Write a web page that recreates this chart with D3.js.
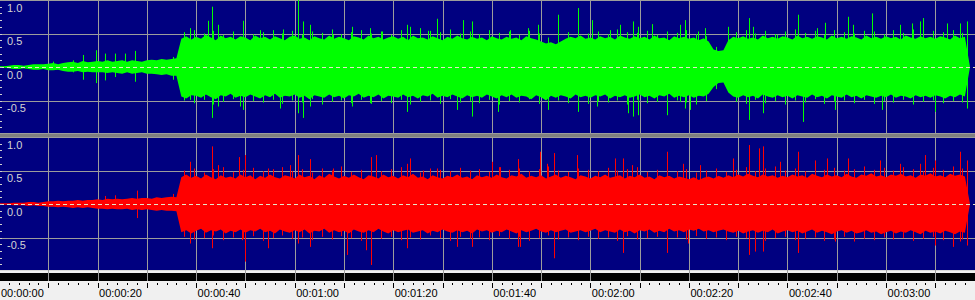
<!DOCTYPE html>
<html>
<head>
<meta charset="utf-8">
<script src="https://cdn.jsdelivr.net/npm/d3@7/dist/d3.min.js"></script>
<style>
  body { margin: 0; background: #f0f0f0; }
  svg { display: block; }
</style>
</head>
<body>
<svg id="chart" width="975" height="300"></svg>
<script>
// peak envelope per second (index = seconds)
var greenHi = [
  0.01,0.01,0.02,0.03,0.03,0.02,0.03,0.04,0.04,0.04,
  0.05,0.06,0.04,0.06,0.07,0.08,0.06,0.09,0.07,0.08,
  0.09,0.08,0.10,0.08,0.09,0.10,0.08,0.10,0.09,0.08,
  0.10,0.11,0.10,0.12,0.11,0.12,0.13,0.42,0.46,0.41,
  0.45,0.42,0.48,0.44,0.40,0.47,0.43,0.45,0.41,0.46,
  0.44,0.40,0.47,0.43,0.45,0.41,0.46,0.43,0.40,0.45,
  0.47,0.42,0.44,0.40,0.46,0.43,0.41,0.47,0.42,0.45,
  0.43,0.40,0.46,0.44,0.41,0.47,0.43,0.45,0.41,0.44,
  0.46,0.42,0.45,0.40,0.47,0.43,0.44,0.41,0.46,0.43,
  0.40,0.45,0.42,0.47,0.43,0.41,0.45,0.42,0.44,0.40,
  0.46,0.43,0.41,0.45,0.42,0.44,0.40,0.46,0.43,0.41,
  0.38,0.35,0.37,0.34,0.38,0.42,0.45,0.43,0.47,0.42,
  0.44,0.41,0.46,0.43,0.45,0.41,0.47,0.44,0.42,0.46,
  0.43,0.45,0.41,0.47,0.43,0.44,0.40,0.46,0.43,0.45,
  0.42,0.44,0.40,0.43,0.38,0.26,0.24,0.25,0.40,0.45,
  0.43,0.46,0.42,0.44,0.41,0.47,0.43,0.45,0.42,0.46,
  0.44,0.41,0.47,0.43,0.45,0.42,0.46,0.44,0.41,0.47,
  0.43,0.45,0.42,0.46,0.44,0.41,0.47,0.43,0.45,0.42,
  0.46,0.43,0.45,0.41,0.47,0.44,0.42,0.46,0.43,0.45,
  0.42,0.46,0.44,0.41,0.47,0.43,0.45,0.02
];
var greenLo = [
  -0.01,-0.01,-0.02,-0.03,-0.03,-0.02,-0.03,-0.04,-0.04,-0.03,
  -0.05,-0.05,-0.04,-0.06,-0.07,-0.07,-0.06,-0.08,-0.07,-0.08,
  -0.08,-0.08,-0.09,-0.08,-0.09,-0.10,-0.08,-0.10,-0.09,-0.08,
  -0.10,-0.10,-0.11,-0.12,-0.11,-0.13,-0.13,-0.44,-0.47,-0.42,
  -0.43,-0.46,-0.41,-0.45,-0.48,-0.42,-0.44,-0.40,-0.46,-0.43,
  -0.45,-0.41,-0.44,-0.47,-0.42,-0.45,-0.40,-0.46,-0.43,-0.44,
  -0.41,-0.46,-0.43,-0.48,-0.42,-0.44,-0.46,-0.41,-0.45,-0.43,
  -0.47,-0.42,-0.44,-0.40,-0.46,-0.43,-0.45,-0.41,-0.47,-0.43,
  -0.44,-0.46,-0.41,-0.45,-0.43,-0.47,-0.42,-0.44,-0.40,-0.46,
  -0.43,-0.45,-0.41,-0.44,-0.47,-0.42,-0.45,-0.43,-0.46,-0.41,
  -0.44,-0.47,-0.42,-0.45,-0.41,-0.46,-0.43,-0.44,-0.48,-0.42,
  -0.45,-0.50,-0.43,-0.46,-0.42,-0.44,-0.47,-0.41,-0.45,-0.43,
  -0.46,-0.42,-0.44,-0.41,-0.47,-0.43,-0.45,-0.42,-0.46,-0.44,
  -0.41,-0.45,-0.43,-0.47,-0.42,-0.44,-0.40,-0.46,-0.43,-0.45,
  -0.42,-0.46,-0.43,-0.44,-0.40,-0.30,-0.24,-0.23,-0.38,-0.44,
  -0.46,-0.42,-0.45,-0.43,-0.47,-0.41,-0.44,-0.46,-0.42,-0.45,
  -0.43,-0.47,-0.42,-0.44,-0.46,-0.41,-0.45,-0.43,-0.47,-0.42,
  -0.44,-0.46,-0.41,-0.45,-0.43,-0.47,-0.42,-0.44,-0.46,-0.43,
  -0.45,-0.41,-0.46,-0.43,-0.44,-0.47,-0.42,-0.45,-0.43,-0.46,
  -0.42,-0.44,-0.47,-0.43,-0.45,-0.41,-0.44,-0.02
];
var redHi = [
  0.01,0.01,0.01,0.02,0.02,0.02,0.03,0.03,0.02,0.03,
  0.04,0.04,0.05,0.04,0.05,0.05,0.06,0.05,0.06,0.06,
  0.07,0.06,0.08,0.07,0.08,0.07,0.08,0.09,0.08,0.09,
  0.09,0.08,0.10,0.09,0.10,0.11,0.10,0.40,0.44,0.39,
  0.42,0.38,0.44,0.40,0.37,0.43,0.39,0.41,0.38,0.44,
  0.40,0.43,0.37,0.42,0.39,0.44,0.40,0.38,0.43,0.41,
  0.38,0.44,0.40,0.42,0.37,0.43,0.39,0.45,0.41,0.38,
  0.42,0.39,0.44,0.40,0.37,0.43,0.41,0.38,0.44,0.40,
  0.42,0.38,0.43,0.40,0.45,0.39,0.41,0.37,0.43,0.40,
  0.38,0.42,0.40,0.44,0.39,0.41,0.37,0.43,0.40,0.42,
  0.39,0.44,0.40,0.38,0.43,0.41,0.45,0.39,0.42,0.40,
  0.43,0.38,0.41,0.44,0.39,0.42,0.40,0.37,0.43,0.41,
  0.38,0.42,0.40,0.44,0.39,0.41,0.43,0.38,0.42,0.40,
  0.44,0.39,0.41,0.37,0.43,0.40,0.42,0.38,0.41,0.39,
  0.37,0.40,0.36,0.39,0.41,0.38,0.42,0.39,0.43,0.40,
  0.44,0.41,0.45,0.42,0.40,0.44,0.41,0.43,0.39,0.42,
  0.40,0.44,0.41,0.43,0.39,0.45,0.42,0.40,0.44,0.41,
  0.43,0.40,0.45,0.41,0.39,0.44,0.42,0.46,0.41,0.43,
  0.40,0.44,0.42,0.45,0.41,0.43,0.39,0.44,0.42,0.46,
  0.41,0.43,0.40,0.45,0.42,0.44,0.41,0.02
];
var redLo = [
  -0.01,-0.01,-0.01,-0.02,-0.02,-0.02,-0.03,-0.02,-0.03,-0.03,
  -0.04,-0.04,-0.05,-0.04,-0.05,-0.06,-0.05,-0.06,-0.05,-0.06,
  -0.07,-0.07,-0.08,-0.07,-0.08,-0.08,-0.07,-0.09,-0.08,-0.09,
  -0.08,-0.09,-0.10,-0.09,-0.10,-0.10,-0.11,-0.42,-0.39,-0.44,
  -0.40,-0.37,-0.43,-0.39,-0.41,-0.38,-0.44,-0.40,-0.42,-0.38,
  -0.43,-0.39,-0.41,-0.37,-0.42,-0.40,-0.44,-0.38,-0.41,-0.43,
  -0.39,-0.42,-0.38,-0.44,-0.40,-0.41,-0.37,-0.43,-0.39,-0.42,
  -0.40,-0.44,-0.38,-0.41,-0.43,-0.39,-0.42,-0.37,-0.41,-0.44,
  -0.39,-0.42,-0.40,-0.38,-0.43,-0.41,-0.39,-0.44,-0.40,-0.42,
  -0.38,-0.41,-0.43,-0.39,-0.42,-0.40,-0.44,-0.38,-0.41,-0.39,
  -0.43,-0.40,-0.42,-0.38,-0.41,-0.44,-0.39,-0.42,-0.40,-0.37,
  -0.41,-0.43,-0.39,-0.42,-0.40,-0.38,-0.43,-0.41,-0.39,-0.42,
  -0.40,-0.37,-0.42,-0.39,-0.41,-0.43,-0.38,-0.42,-0.40,-0.44,
  -0.39,-0.41,-0.38,-0.43,-0.40,-0.42,-0.37,-0.41,-0.39,-0.42,
  -0.38,-0.40,-0.37,-0.41,-0.39,-0.42,-0.40,-0.38,-0.41,-0.43,
  -0.40,-0.44,-0.41,-0.39,-0.43,-0.40,-0.42,-0.38,-0.44,-0.41,
  -0.39,-0.42,-0.40,-0.44,-0.41,-0.38,-0.43,-0.40,-0.42,-0.45,
  -0.41,-0.39,-0.43,-0.40,-0.44,-0.42,-0.39,-0.43,-0.41,-0.45,
  -0.42,-0.40,-0.44,-0.41,-0.43,-0.39,-0.42,-0.45,-0.40,-0.43,
  -0.41,-0.44,-0.40,-0.42,-0.45,-0.41,-0.43,-0.02
];

// thin teeth on the edge of the loud part, one per 2 s starting at 37.5 s
var fringeStart = 37.5;
var greenFringeTop = [
  0.52,0.55,0.50,0.54,0.48,0.53,0.56,0.49,0.52,0.55,
  0.50,0.54,0.48,0.53,0.51,0.56,0.49,0.52,0.55,0.50,
  0.53,0.48,0.55,0.51,0.49,0.54,0.52,0.56,0.50,0.53,
  0.49,0.55,0.51,0.53,0.48,0.54,0.50,0.44,0.42,0.52,
  0.55,0.50,0.53,0.49,0.56,0.52,0.51,0.54,0.48,0.53,
  0.51,0.55,0.49,0.46,0.30,0.29,0.52,0.55,0.50,0.54,
  0.49,0.53,0.56,0.51,0.54,0.48,0.55,0.52,0.50,0.54,
  0.53,0.49,0.55,0.51,0.56,0.50,0.54,0.52,0.55,0.51
];
var greenFringeBottom = [
  -0.50,-0.54,-0.49,-0.56,-0.52,-0.48,-0.55,-0.51,-0.53,-0.49,
  -0.55,-0.50,-0.53,-0.48,-0.56,-0.52,-0.50,-0.54,-0.49,-0.55,
  -0.51,-0.54,-0.49,-0.56,-0.52,-0.50,-0.55,-0.48,-0.53,-0.51,
  -0.54,-0.49,-0.56,-0.51,-0.53,-0.48,-0.55,-0.52,-0.50,-0.54,
  -0.49,-0.55,-0.51,-0.53,-0.50,-0.56,-0.49,-0.54,-0.52,-0.55,
  -0.50,-0.53,-0.56,-0.51,-0.33,-0.28,-0.52,-0.55,-0.49,-0.54,
  -0.51,-0.56,-0.50,-0.53,-0.48,-0.55,-0.52,-0.50,-0.54,-0.49,
  -0.55,-0.51,-0.53,-0.49,-0.56,-0.52,-0.50,-0.54,-0.51,-0.53
];
var redFringeTop = [
  0.50,0.53,0.47,0.52,0.55,0.48,0.51,0.54,0.49,0.52,
  0.55,0.49,0.52,0.47,0.53,0.50,0.56,0.48,0.51,0.54,
  0.49,0.52,0.55,0.50,0.47,0.53,0.51,0.49,0.54,0.50,
  0.52,0.48,0.55,0.51,0.53,0.49,0.52,0.56,0.50,0.48,
  0.53,0.51,0.49,0.54,0.50,0.52,0.55,0.48,0.51,0.53,
  0.49,0.52,0.47,0.50,0.53,0.48,0.51,0.55,0.49,0.53,
  0.56,0.50,0.53,0.49,0.55,0.51,0.54,0.50,0.52,0.56,
  0.51,0.54,0.50,0.55,0.52,0.49,0.54,0.51,0.56,0.53
];
var redFringeBottom = [
  -0.49,-0.53,-0.51,-0.47,-0.54,-0.50,-0.52,-0.48,-0.55,-0.51,
  -0.47,-0.52,-0.50,-0.54,-0.49,-0.53,-0.48,-0.51,-0.55,-0.50,
  -0.52,-0.49,-0.54,-0.50,-0.53,-0.47,-0.51,-0.55,-0.49,-0.52,
  -0.50,-0.54,-0.48,-0.52,-0.49,-0.55,-0.51,-0.47,-0.53,-0.50,
  -0.54,-0.49,-0.52,-0.50,-0.55,-0.48,-0.53,-0.51,-0.49,-0.54,
  -0.50,-0.53,-0.48,-0.52,-0.50,-0.54,-0.49,-0.51,-0.53,-0.55,
  -0.51,-0.49,-0.54,-0.52,-0.50,-0.55,-0.53,-0.49,-0.56,-0.52,
  -0.54,-0.50,-0.53,-0.51,-0.55,-0.52,-0.49,-0.54,-0.51,-0.53
];

// single tall transients [seconds, amplitude]
var greenPeaks = [
  [11.0,0.08],[15.0,0.10],[15.0,-0.08],[17.0,0.18],[17.0,-0.19],[19.7,0.25],[19.7,-0.24],
  [21.5,0.20],[21.5,-0.20],[23.5,0.20],[23.5,-0.15],[25.6,0.20],[27.6,0.24],[27.6,-0.22],
  [35.3,0.15],[35.3,-0.19],
  [38.8,0.58],[38.8,-0.49],[42.4,0.69],[43.2,0.90],[43.2,-0.76],[44.4,0.63],[44.4,-0.59],
  [48.9,-0.59],[49.5,0.69],[49.5,-0.64],[53.0,0.55],[57.0,-0.62],[57.6,0.56],
  [60.7,1.00],[60.7,-0.69],[61.7,0.68],[61.7,-0.76],[63.1,0.63],[63.1,-0.59],[67.8,0.48],
  [71.6,0.60],[71.6,-0.59],[75.3,0.58],[75.3,-0.54],[77.7,0.53],[82.8,0.63],[82.8,-0.67],
  [83.4,0.60],[85.4,0.58],[85.4,-0.52],[87.1,0.54],[88.9,0.72],[92.9,-0.64],[94.2,0.70],
  [96.0,0.68],[96.0,-0.74],[101.3,-0.67],[103.7,0.55],[107.3,0.58],[109.4,0.63],
  [111.4,-0.64],[113.4,0.78],[117.5,0.88],[117.5,-0.67],[120.3,0.70],[121.3,-0.59],
  [124.0,0.55],[126.0,0.63],[127.6,-0.69],[128.7,0.68],[128.7,-0.74],[129.7,0.60],
  [129.7,-0.72],[132.5,0.64],[135.6,-0.72],[138.2,0.63],[138.2,-0.52],[139.2,0.70],
  [139.2,-0.62],[140.2,-0.64],[141.8,0.53],[143.3,0.58],[147.9,0.60],[152.2,0.73],
  [152.2,-0.79],[153.0,0.60],[155.0,-0.69],[157.9,0.48],[162.1,0.78],[163.1,-0.82],
  [166.0,0.58],[167.6,0.66],[169.6,-0.64],[172.3,0.75],[173.3,0.63],[177.2,0.80],
  [179.2,-0.64],[182.8,0.63],[185.3,0.65],[186.9,0.68],[187.5,0.73],[190.0,-0.67],
  [192.4,0.65],[195.0,0.65],[196.4,0.68],[196.4,-0.62]
];
var redPeaks = [
  [21.5,0.12],[23.5,0.13],[28.0,0.20],[28.0,-0.21],[35.3,0.15],
  [38.8,0.63],[38.8,-0.59],[43.2,0.86],[43.2,-0.66],[44.4,0.58],[48.7,0.70],[49.3,-0.54],
  [49.9,0.73],[49.9,-0.86],[54.6,0.53],[54.6,-0.66],[59.0,0.58],[60.7,0.73],[60.7,-0.59],
  [63.1,0.67],[63.1,-0.64],[67.8,0.53],[70.6,-0.76],[74.5,-0.69],[75.5,0.70],[75.5,-0.91],
  [76.5,0.73],[82.8,0.60],[82.8,-0.66],[83.4,0.68],[86.0,0.50],[88.9,0.53],[92.9,-0.64],
  [96.0,-0.64],[100.0,0.63],[101.7,0.55],[105.3,0.67],[105.3,-0.64],[105.7,-0.64],
  [109.8,0.78],[111.2,0.60],[112.6,0.76],[112.6,-0.81],[117.3,0.73],[125.0,0.68],
  [126.6,0.68],[126.6,-0.73],[128.4,0.58],[135.6,0.78],[135.6,-0.73],[138.8,0.60],
  [139.8,-0.59],[142.2,0.58],[148.9,0.68],[152.2,0.88],[152.2,-0.76],[153.4,-0.71],
  [154.2,0.83],[155.0,0.86],[155.0,-0.71],[158.5,0.63],[162.1,0.78],[162.1,-0.73],
  [165.6,0.65],[168.0,0.68],[169.6,-0.56],[172.3,0.68],[178.8,0.65],[182.8,0.60],
  [186.9,0.60],[187.9,0.73],[190.0,0.65],[190.0,-0.62],[193.6,-0.64],[195.0,0.78],
  [195.0,-0.56],[196.4,0.65],[196.4,-0.62]
];

var yTicks = [1.0, 0.5, 0.0, -0.5];
var timeLabels = ["00:00:00", "00:00:20", "00:00:40", "00:01:00", "00:01:20", "00:01:40",
                  "00:02:00", "00:02:20", "00:02:40", "00:03:00"];

var W = 975, panelH = 134, gap = 3;
var navy = "#000080", grid = "#9c9c9c";

var svg = d3.select("#chart");
var x = d3.scaleLinear().domain([0, 198]).range([-1, -1 + 198 * 4.928]);
var px = function (t) { return Math.round(x(t)) + 0.5; };

svg.append("rect").attr("width", W).attr("height", 300).attr("fill", "#f0f0f0");

function fringeToPeaks(top, bottom) {
    var out = [];
    top.forEach(function (v, i) { out.push([fringeStart + 2 * i, v]); });
    bottom.forEach(function (v, i) { out.push([fringeStart + 2 * i, v]); });
    return out;
}

function drawPanel(top, hi, lo, peaks, color, id) {
    var y = d3.scaleLinear().domain([-1, 1]).range([top + panelH, top]);
    var g = svg.append("g");

    g.append("rect").attr("x", 0).attr("y", top).attr("width", W).attr("height", panelH)
        .attr("fill", navy);

    svg.append("clipPath").attr("id", id)
        .append("rect").attr("x", 0).attr("y", top).attr("width", W).attr("height", panelH);

    // gridlines
    g.selectAll(".hgrid").data([1, 0.5, -0.5, -1]).enter().append("line")
        .attr("x1", 0).attr("x2", W)
        .attr("y1", function (d) { return Math.min(Math.round(y(d)), top + panelH - 1) + 0.5; })
        .attr("y2", function (d) { return Math.min(Math.round(y(d)), top + panelH - 1) + 0.5; })
        .attr("stroke", function (d) { return d === -1 && top > 0 ? "#d8d8d8" : grid; });
    g.selectAll(".vgrid").data(d3.range(10, 200, 10)).enter().append("line")
        .attr("x1", px).attr("x2", px)
        .attr("y1", top).attr("y2", top + panelH)
        .attr("stroke", grid);

    // waveform body
    var samples = hi.map(function (v, i) { return { t: i, hi: v, lo: lo[i] }; });
    var area = d3.area()
        .x(function (d) { return x(d.t); })
        .y0(function (d) { return y(d.lo); })
        .y1(function (d) { return y(d.hi); });
    var wave = g.append("g").attr("clip-path", "url(#" + id + ")");
    wave.append("path").datum(samples).attr("d", area).attr("fill", color);
    wave.selectAll(".peak").data(peaks).enter().append("line")
        .attr("x1", function (d) { return px(d[0]); })
        .attr("x2", function (d) { return px(d[0]); })
        .attr("y1", y(0))
        .attr("y2", function (d) { return y(d[1]); })
        .attr("stroke", color).attr("stroke-width", 1);

    // zero line
    g.append("line").attr("x1", 0).attr("x2", W)
        .attr("y1", Math.round(y(0)) + 0.5).attr("y2", Math.round(y(0)) + 0.5)
        .attr("stroke", "#e6e6c8").attr("stroke-dasharray", "4,3");

    // left ticks and labels
    g.selectAll(".ytick").data(d3.range(-9, 10)).enter().append("line")
        .attr("x1", 0).attr("x2", 2)
        .attr("y1", function (d) { return Math.round(y(d / 10)) + 0.5; })
        .attr("y2", function (d) { return Math.round(y(d / 10)) + 0.5; })
        .attr("stroke", "#d0d0d0");
    g.selectAll(".ylab").data(yTicks).enter().append("text")
        .attr("x", 7)
        .attr("y", function (d) { return y(d) + 11.5; })
        .attr("fill", "#d4d4d4")
        .style("font", "11px 'Liberation Sans', Arial, sans-serif")
        .text(function (d) { return d.toFixed(1); });
}

drawPanel(0, greenHi, greenLo,
    greenPeaks.concat(fringeToPeaks(greenFringeTop, greenFringeBottom)), "#00ff00", "clipTop");
svg.append("rect").attr("x", 0).attr("y", panelH).attr("width", W).attr("height", gap)
    .attr("fill", "#808080");
drawPanel(panelH + gap, redHi, redLo,
    redPeaks.concat(fringeToPeaks(redFringeTop, redFringeBottom)), "#ff0000", "clipBottom");

// black strip under the panels
var stripTop = 2 * panelH + gap + 2;
svg.append("rect").attr("x", 0).attr("y", stripTop).attr("width", W).attr("height", 8)
    .attr("fill", "#000");
svg.selectAll(".sgrid").data(d3.range(10, 200, 10)).enter().append("line")
    .attr("x1", px).attr("x2", px)
    .attr("y1", stripTop - 2).attr("y2", stripTop + 8)
    .attr("stroke", grid);

// time axis
var axisTop = stripTop + 9;
svg.selectAll(".minor").data(d3.range(0, 198, 2)).enter().append("line")
    .attr("x1", px).attr("x2", px)
    .attr("y1", axisTop + 1).attr("y2", function (d) { return d % 10 === 0 ? axisTop + 6 : axisTop + 3; })
    .attr("stroke", "#000");
svg.selectAll(".tlab").data(timeLabels).enter().append("text")
    .attr("x", function (d, i) { return i === 0 ? 1 : x(i * 20) + 1.5; })
    .attr("y", 297)
    .attr("fill", "#000")
    .style("font", "11px 'Liberation Sans', Arial, sans-serif")
    .text(function (d) { return d; });
</script>
</body>
</html>
